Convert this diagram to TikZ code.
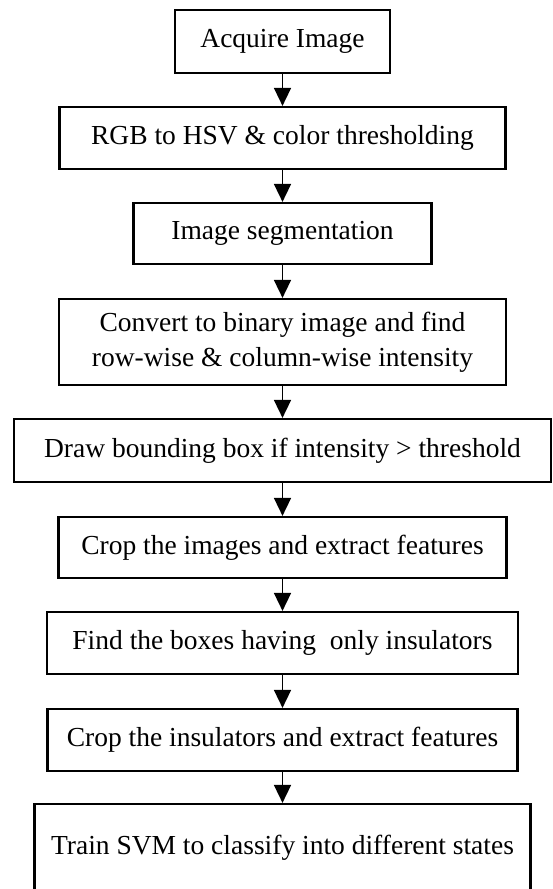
\documentclass[tikz,border=0pt]{standalone}
\usepackage{fontspec}
\setmainfont{Liberation Serif}
\usetikzlibrary{arrows.meta}
\begin{document}
\begin{tikzpicture}[x=1pt,y=-1pt,
  stepbox/.style={draw=black, line width=2.2pt, inner sep=0pt, align=center,
    font=\fontsize{27.5}{35}\selectfont, text=black},
  arr/.style={line width=1.6pt, -{Triangle[width=17pt,length=18pt]}}]
\useasboundingbox (0,0) rectangle (553,889);
\clip (0,0) rectangle (553,889);
\node[stepbox, minimum width=215pt, minimum height=63pt] (b1) at (282.5,41.5) {Acquire Image};
\node[stepbox, minimum width=446pt, minimum height=62pt] (b2) at (282.5,138) {RGB to HSV \& color thresholding};
\node[stepbox, minimum width=298pt, minimum height=61pt] (b3) at (282.5,233.5) {Image segmentation};
\node[stepbox, minimum width=447pt, minimum height=86pt] (b4) at (282.5,342) {Convert to binary image and find\\row-wise \& column-wise intensity};
\node[stepbox, minimum width=537pt, minimum height=63pt] (b5) at (282.5,450.5) {Draw bounding box if intensity > threshold};
\node[stepbox, minimum width=448pt, minimum height=61pt] (b6) at (282.5,547.5) {Crop the images and extract features};
\node[stepbox, minimum width=471pt, minimum height=62pt] (b7) at (282.5,643) {Find the boxes having\ \ only insulators};
\node[stepbox, minimum width=470pt, minimum height=62pt] (b8) at (282.5,740) {Crop the insulators and extract features};
\node[stepbox, minimum width=496pt, minimum height=88pt] (b9) at (282.5,848) {Train SVM to classify into different states};
\draw[arr] (b1.south) -- (b2.north);
\draw[arr] (b2.south) -- (b3.north);
\draw[arr] (b3.south) -- (b4.north);
\draw[arr] (b4.south) -- (b5.north);
\draw[arr] (b5.south) -- (b6.north);
\draw[arr] (b6.south) -- (b7.north);
\draw[arr] (b7.south) -- (b8.north);
\draw[arr] (b8.south) -- (b9.north);
\end{tikzpicture}
\end{document}
